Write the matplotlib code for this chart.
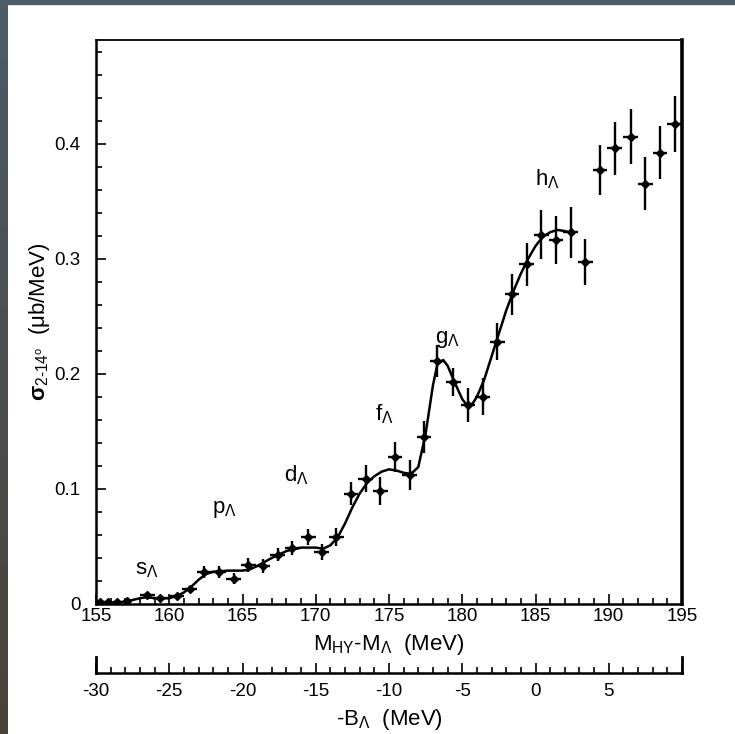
import numpy as np
import matplotlib
matplotlib.use('Agg')
import matplotlib.pyplot as plt
from matplotlib.ticker import MultipleLocator, FuncFormatter

plt.rcParams['font.family'] = ['Liberation Sans', 'DejaVu Sans']
plt.rcParams['mathtext.fontset'] = 'custom'
plt.rcParams['mathtext.rm'] = 'Liberation Sans'
plt.rcParams['mathtext.it'] = 'Liberation Sans'
plt.rcParams['mathtext.bf'] = 'Liberation Sans:bold'
plt.rcParams['axes.unicode_minus'] = False

# measured points (M_HY - M_Lambda, MeV) and cross section (ub/MeV)
x_pts = [155.3, 155.8, 156.4, 157.1, 158.5, 159.4, 160.5, 161.4, 162.4, 163.4,
         164.4, 165.4, 166.4, 167.4, 168.4, 169.5, 170.4, 171.4, 172.4, 173.4,
         174.4, 175.4, 176.4, 177.4, 178.3, 179.4, 180.4, 181.4, 182.4, 183.4,
         184.4, 185.4, 186.4, 187.4, 188.4, 189.4, 190.4, 191.5, 192.5, 193.5,
         194.5]
y_pts = [0.002, 0.002, 0.002, 0.003, 0.008, 0.005, 0.007, 0.013, 0.028, 0.028,
         0.022, 0.034, 0.033, 0.043, 0.049, 0.058, 0.045, 0.058, 0.096, 0.109,
         0.098, 0.128, 0.112, 0.145, 0.211, 0.193, 0.173, 0.180, 0.228, 0.269,
         0.295, 0.321, 0.316, 0.323, 0.297, 0.377, 0.396, 0.406, 0.365, 0.392,
         0.417]
y_err = [0.001, 0.001, 0.001, 0.001, 0.002, 0.002, 0.002, 0.003, 0.005, 0.005,
         0.005, 0.006, 0.006, 0.006, 0.006, 0.007, 0.007, 0.008, 0.010, 0.012,
         0.012, 0.013, 0.013, 0.014, 0.014, 0.012, 0.015, 0.016, 0.016, 0.018,
         0.019, 0.021, 0.021, 0.022, 0.020, 0.022, 0.023, 0.024, 0.023, 0.023,
         0.024]
x_err = [0.25, 0.25, 0.25, 0.25] + [0.5] * 37

# fitted curve
fit_x = [155.0, 156.0, 157.0, 158.0, 158.5, 159.0, 160.0, 160.5, 161.0, 161.5,
         162.0, 162.5, 163.0, 164.0, 165.0, 165.5, 166.0, 167.0, 168.0, 169.0,
         170.0, 170.5, 171.0, 171.5, 172.0, 172.5, 173.0, 173.5, 174.0, 174.5,
         175.0, 175.5, 176.0, 176.5, 177.0, 177.5, 178.0, 178.3, 178.7, 179.0,
         179.5, 180.0, 180.3, 180.7, 181.0, 181.5, 182.0, 182.5, 183.0, 183.5,
         184.0, 184.5, 185.0, 185.5, 186.0, 186.5, 187.0, 187.6]
fit_y = [0.001, 0.001, 0.002, 0.005, 0.006, 0.005, 0.005, 0.007, 0.010, 0.015,
         0.021, 0.026, 0.028, 0.029, 0.029, 0.030, 0.033, 0.040, 0.046, 0.049,
         0.049, 0.048, 0.051, 0.058, 0.070, 0.084, 0.096, 0.105, 0.111, 0.115,
         0.117, 0.116, 0.114, 0.113, 0.119, 0.148, 0.190, 0.208, 0.212, 0.207,
         0.192, 0.178, 0.173, 0.174, 0.180, 0.195, 0.215, 0.235, 0.255, 0.272,
         0.287, 0.300, 0.311, 0.319, 0.323, 0.325, 0.324, 0.322]

# shell labels
lab_txt = ['s', 'p', 'd', 'f', 'g', 'h']
lab_x = [158.5, 163.8, 168.7, 174.7, 179.0, 185.8]
lab_y = [0.030, 0.082, 0.112, 0.165, 0.230, 0.369]

W, H = 735, 734
fig = plt.figure(figsize=(W / 100, H / 100), dpi=100)

# scanned page border
band = fig.add_axes([0, 0, 8 / W, 1])
grad = np.linspace(0, 1, 100).reshape(-1, 1)
top_c = np.array([0x4c, 0x5c, 0x68]) / 255
bot_c = np.array([0x4a, 0x42, 0x38]) / 255
band.imshow(top_c * (1 - grad[:, :, None]) + bot_c * grad[:, :, None], aspect='auto')
band.axis('off')
fig.patches.append(plt.Rectangle((0, 1 - 4 / H), 1, 4 / H, transform=fig.transFigure,
                                 color='#4c5c68', zorder=0))

ax = fig.add_axes([96 / W, 1 - 604 / H, 586 / W, 564 / H])
ax.errorbar(x_pts, y_pts, yerr=y_err, xerr=x_err, fmt='D', ms=4, color='black',
            elinewidth=1.7, capsize=0)
ax.plot(fit_x, fit_y, color='black', lw=1.8)
for t, xx, yy in zip(lab_txt, lab_x, lab_y):
    ax.text(xx, yy, r'$\mathregular{' + t + r'_{\Lambda}}$', fontsize=16,
            ha='center', va='center')

ax.set_xlim(155, 195)
ax.set_ylim(0, 0.49)
ax.xaxis.set_major_locator(MultipleLocator(5))
ax.xaxis.set_minor_locator(MultipleLocator(1))
ax.yaxis.set_major_locator(MultipleLocator(0.1))
ax.yaxis.set_minor_locator(MultipleLocator(0.02))
ax.yaxis.set_major_formatter(FuncFormatter(lambda v, p: '0' if abs(v) < 1e-9 else '%.1f' % v))
ax.tick_params(which='both', direction='in', top=False, right=False, labelsize=13.5, width=1.2)
ax.tick_params(which='major', length=7)
ax.tick_params(which='minor', length=4)
ax.tick_params(axis='x', pad=3)
ax.tick_params(axis='y', pad=11)
for s in ['left', 'bottom']:
    ax.spines[s].set_linewidth(1.8)
ax.spines['top'].set_linewidth(1.3)
ax.spines['right'].set_linewidth(2.6)
ax.set_xlabel(r'$\mathregular{M_{HY}}$-$\mathregular{M_{\Lambda}}$  (MeV)', fontsize=16, labelpad=5)
ax.set_ylabel(r'$\mathbf{\sigma}_{\mathregular{2\text{-}14^o}}$  (μb/MeV)', fontsize=16, labelpad=2)

# binding energy scale below
ax2 = fig.add_axes([96 / W, 1 - 673 / H, 586 / W, 16 / H])
ax2.patch.set_visible(False)
ax2.set_xlim(-30, 10)
ax2.set_ylim(0, 1)
for s in ['left', 'right', 'top']:
    ax2.spines[s].set_visible(False)
ax2.spines['bottom'].set_linewidth(1.8)
ax2.set_yticks([])
ax2.xaxis.set_major_locator(MultipleLocator(5))
ax2.xaxis.set_minor_locator(MultipleLocator(1))
ax2.set_xticks([-30, -25, -20, -15, -10, -5, 0, 5])
ax2.tick_params(which='both', direction='in', labelsize=13.5, width=1.2, pad=7)
ax2.tick_params(which='major', length=7)
ax2.tick_params(which='minor', length=4)
ax2.plot([-30, -30], [0, 1], color='black', lw=2, clip_on=False)
ax2.plot([10, 10], [0, 1], color='black', lw=2, clip_on=False)
ax2.set_xlabel(r'-$\mathregular{B_{\Lambda}}$  (MeV)', fontsize=16, labelpad=5)

fig.savefig('out.png', dpi=100)
